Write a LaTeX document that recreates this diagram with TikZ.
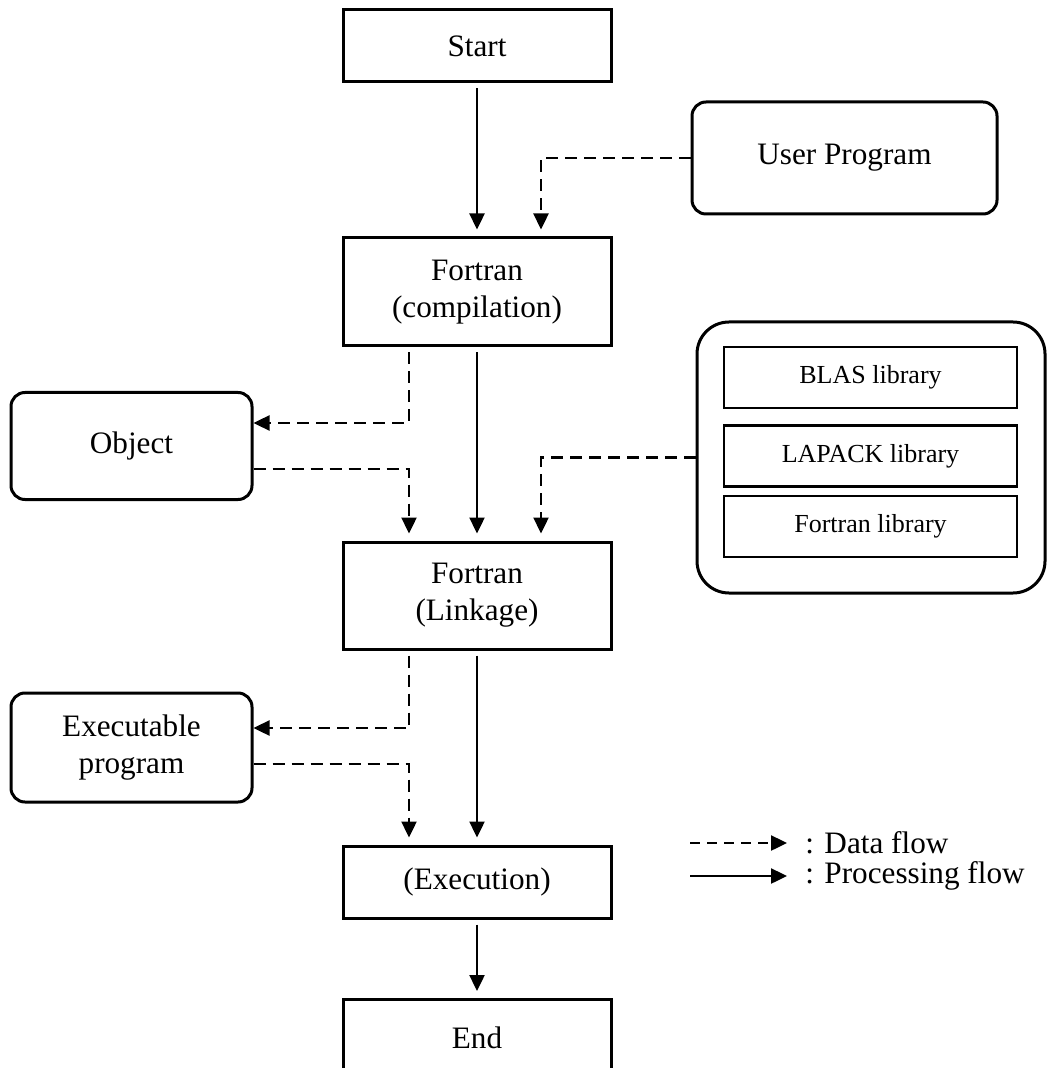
\documentclass[tikz,border=0pt]{standalone}
\usepackage{fontspec}
\setmainfont{Liberation Serif}
\usepackage{tikz}
\usetikzlibrary{arrows.meta}
\usetikzlibrary{positioning}

\begin{document}
\begin{tikzpicture}[x=0.5pt,y=-0.5pt,
  every node/.style={font=\fontsize{15.6}{18.5}\selectfont,align=center,inner sep=0pt},
  box/.style={draw,line width=1.5pt,minimum width=134pt},
  rbox/.style={draw,line width=1.5pt,rounded corners=7pt},
  libbox/.style={draw,line width=1.2pt,minimum width=146.5pt,minimum height=30.5pt,font=\fontsize{13}{15}\selectfont},
  proc/.style={line width=1.2pt,-{Triangle[length=8pt,width=7.5pt]}},
  data/.style={proc,dash pattern=on 6pt off 3.5pt}]
  \useasboundingbox (0,0) rectangle (1047,1068);

  \node[box,minimum height=36pt] (start) at (477,46) {Start};
  \node[rbox,minimum width=152.5pt,minimum height=56pt] (user) at (844.5,158) {User Program};
  \node[box,minimum height=54pt] (comp) at (477,292) {Fortran\\(compilation)};
  \node[rbox,minimum width=120.5pt,minimum height=53.5pt] (obj) at (131.5,446) {Object};

  \node[rbox,rounded corners=16pt,minimum width=174pt,minimum height=135.5pt] (lib) at (871,457.5) {};
  \node[libbox] (blas) at (870.5,377.5) {BLAS library};
  \node[libbox] (lapack) at (870.5,456) {LAPACK library};
  \node[libbox] (flib) at (870.5,526.5) {Fortran library};

  \node[box,minimum height=53.5pt] (link) at (477,595.5) {Fortran\\(Linkage)};
  \node[rbox,minimum width=120.5pt,minimum height=54.5pt] (exe) at (131.5,747.5) {Executable\\program};
  \node[box,minimum height=36pt] (run) at (477,882) {(Execution)};
  \node[box,minimum height=38pt,anchor=north] (end) at (477,998) {End};

  \draw[proc,shorten <=2.5pt,shorten >=3.5pt] (start) -- (comp);
  \draw[data,shorten >=3.5pt] (user.west) -| ([xshift=32pt]comp.north);
  \draw[data,shorten <=2.5pt] ([xshift=-34pt]comp.south) |- ([yshift=11.5pt]obj.east);
  \draw[data,shorten >=3.5pt] ([yshift=-11.5pt]obj.east) -| ([xshift=-34pt]link.north);
  \draw[proc,shorten <=2.5pt,shorten >=3.5pt] (comp) -- (link);
  \draw[data,shorten >=3.5pt] (lib.west) -| ([xshift=32pt]link.north);
  \draw[data,shorten <=2.5pt] ([xshift=-34pt]link.south) |- ([yshift=9.75pt]exe.east);
  \draw[data,shorten >=3.5pt] ([yshift=-8.25pt]exe.east) -| ([xshift=-34pt]run.north);
  \draw[proc,shorten <=2.5pt,shorten >=3.5pt] (link) -- (run);
  \draw[proc,shorten <=2.5pt,shorten >=3.5pt] (run) -- (end);

  % legend
  \coordinate (dfrom) at (690,843);
  \coordinate (dto) at (787,843);
  \coordinate (pfrom) at (690,876);
  \coordinate (pto) at (787,876);
  \draw[data,dash pattern=on 5pt off 3.5pt] (dfrom) -- (dto);
  \draw[proc] (pfrom) -- (pto);
  \node[anchor=west] (dtxt) at (805,843) {: Data flow};
  \node[anchor=west] (ptxt) at (805,876) {: Processing flow};
\end{tikzpicture}
\end{document}
